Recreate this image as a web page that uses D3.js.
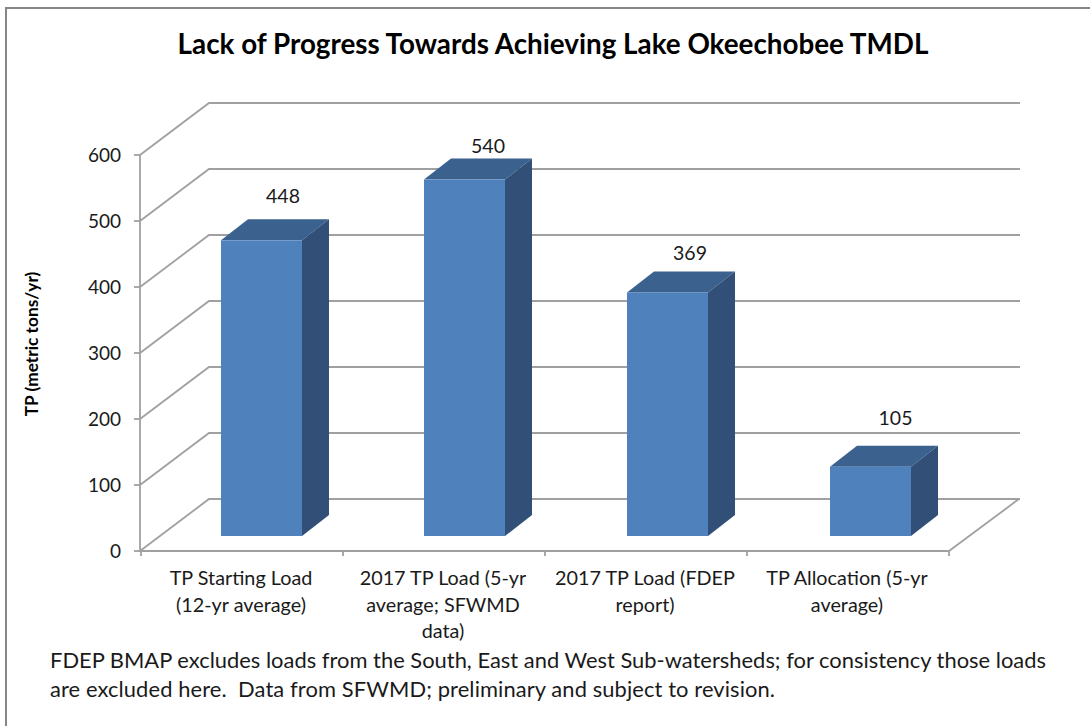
<!DOCTYPE html>
<html><head><meta charset="utf-8">
<script src="https://cdn.jsdelivr.net/npm/d3@7"></script>
<style>html,body{margin:0;padding:0;background:#fff}svg{display:block}text{font-family:Lato,"Open Sans",sans-serif;fill:#1a1a1a}</style>
</head><body><svg id="c" width="1090" height="726"></svg>
<script>
const categories=[["TP Starting Load","(12-yr average)"],["2017 TP Load (5-yr","average; SFWMD","data)"],["2017 TP Load (FDEP","report)"],["TP Allocation (5-yr","average)"]];
const values=[448,540,369,105];
const yTicks=[0,100,200,300,400,500,600];
const titleText="Lack of Progress Towards Achieving Lake Okeechobee TMDL";
const yTitle="TP (metric tons/yr)";
const noteLines=["FDEP BMAP excludes loads from the South, East and West Sub-watersheds; for consistency those loads","are excluded here.  Data from SFWMD; preliminary and subject to revision."];

const svg=d3.select("#c");
const grid="#a0a0a0";
const depthX=69,depthY=52,barDX=27,barDY=21;
svg.append("path").attr("d","M6,726V8H1090").attr("fill","none").attr("stroke","#868686").attr("stroke-width",2);

const x=d3.scaleBand().domain(d3.range(categories.length)).range([141,949]);
const barX=d3.scaleBand().domain(d3.range(categories.length)).range([142,954]);
const y=d3.scaleLinear().domain([0,600]).range([551,155]);
const barY=d3.scaleLinear().domain([0,600]).range([536,140]);
const barW=81,barOff=79;
const labelDx=[21.5,23.5,22.5,25], labelDy=[37,27,32,42];
const noteWidths=[996,725];

const g=svg.append("g").attr("fill","none").attr("stroke",grid).attr("stroke-width",1.8);
yTicks.forEach(t=>{
  const p=d3.path();
  p.moveTo(x.range()[0]-1,y(t));
  p.lineTo(x.range()[0]-1+depthX,y(t)-depthY);
  p.lineTo(x.range()[1]+depthX+2,y(t)-depthY);
  g.append("path").attr("d",p.toString());
});
const floor=d3.path();floor.moveTo(x.range()[1],y(0));floor.lineTo(x.range()[1]+depthX+1,y(0)-depthY);
g.append("path").attr("d",floor.toString());
g.append("path").attr("d",`M${x.range()[0]-1},${y(600)}V${y(0)}H${x.range()[1]}`);
yTicks.forEach(t=>g.append("path").attr("d",`M${x.range()[0]-7},${y(t)}H${x.range()[0]-1}`));
d3.range(categories.length+1).forEach(i=>{
  const px=i<categories.length?x(i):x.range()[1];
  g.append("path").attr("d",`M${px},${y(0)}v5`);
});

const bars=svg.append("g").selectAll("g").data(values).join("g");
bars.append("path").attr("fill","#3b618f").attr("d",(d,i)=>{
  const l=barX(i)+barOff,t=barY(d);
  return `M${l},${t}l${barDX},${-barDY}h${barW}l${-barDX},${barDY}Z`;
});
bars.append("path").attr("fill","#314f77").attr("d",(d,i)=>{
  const r=barX(i)+barOff+barW,t=barY(d),b=barY(0);
  return `M${r},${t}l${barDX},${-barDY}V${b-barDY}l${-barDX},${barDY}Z`;
});
bars.append("rect").attr("fill","#4f81bd").attr("x",(d,i)=>barX(i)+barOff).attr("y",d=>barY(d)).attr("width",barW).attr("height",d=>barY(0)-barY(d));

bars.append("text").attr("x",(d,i)=>barX(i)+barOff+barW/2+labelDx[i]).attr("y",(d,i)=>barY(d)-labelDy[i])
  .attr("text-anchor","middle").attr("font-size",19.5).text(d=>d);

svg.append("g").selectAll("text").data(yTicks).join("text").attr("x",121).attr("y",d=>y(d)+6.5)
  .attr("text-anchor","end").attr("font-size",19).text(d=>d);

categories.forEach((lines,i)=>{
  const cx=x(i)+x.bandwidth()/2-1;
  lines.forEach((s,j)=>svg.append("text").attr("x",cx).attr("y",585+j*26.5).attr("text-anchor","middle").attr("font-size",19.8).text(s));
});

svg.append("text").attr("x",553).attr("y",54).attr("text-anchor","middle").attr("font-size",27.8).attr("font-weight",700).style("fill","#000").text(titleText);
svg.append("text").attr("transform","translate(38,344) rotate(-90)").attr("text-anchor","middle").attr("font-size",17.3).attr("font-weight",700).style("fill","#000").text(yTitle);
noteLines.forEach((s,i)=>svg.append("text").attr("x",50).attr("y",668+i*29).attr("font-size",21.9).attr("textLength",noteWidths[i]).attr("lengthAdjust","spacing").style("white-space","pre").text(s));
</script></body></html>
